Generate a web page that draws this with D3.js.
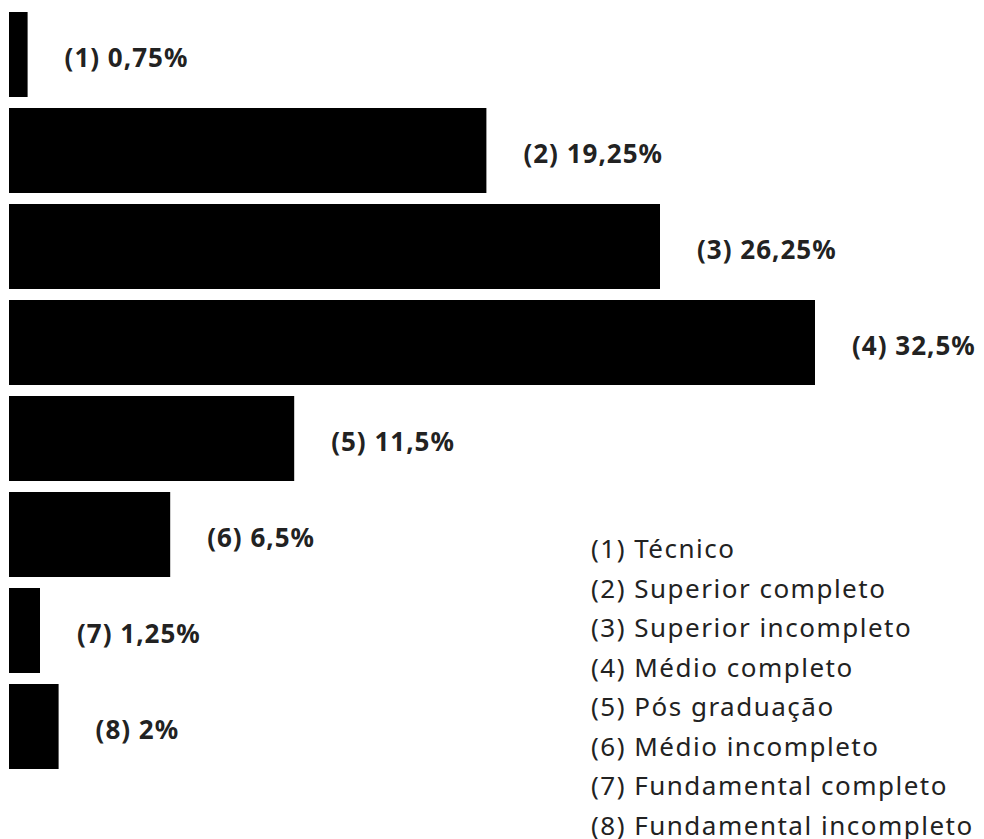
<!DOCTYPE html>
<html>
<head>
<meta charset="utf-8">
<script src="https://cdn.jsdelivr.net/npm/d3@7"></script>
<style>
  html, body { margin: 0; padding: 0; background: #fff; }
  svg { display: block; }
</style>
</head>
<body>
<svg id="chart" width="984" height="839"></svg>
<script>
const codes = ["(1)", "(2)", "(3)", "(4)", "(5)", "(6)", "(7)", "(8)"];
const categories = ["Técnico", "Superior completo", "Superior incompleto", "Médio completo",
                    "Pós graduação", "Médio incompleto", "Fundamental completo", "Fundamental incompleto"];
const values = [0.75, 19.25, 26.25, 32.5, 11.5, 6.5, 1.25, 2];
const valueLabels = ["0,75%", "19,25%", "26,25%", "32,5%", "11,5%", "6,5%", "1,25%", "2%"];

const svg = d3.select("#chart");
const font = "'Noto Sans', 'Open Sans', sans-serif";

const x = d3.scaleLinear().domain([0, 32.5]).range([9, 815]);
const y = d3.scaleBand().domain(codes).range([12, 769]).paddingInner(11 / 96).paddingOuter(0);

const data = codes.map((c, i) => ({ code: c, cat: categories[i], v: values[i], lab: valueLabels[i] }));

svg.append("g").selectAll("rect").data(data).join("rect")
  .attr("x", x(0))
  .attr("y", d => y(d.code))
  .attr("width", d => x(d.v) - x(0))
  .attr("height", y.bandwidth())
  .attr("fill", "#000");

svg.append("g").selectAll("text").data(data).join("text")
  .attr("x", d => x(d.v) + 37)
  .attr("y", d => y(d.code) + y.bandwidth() / 2 + 2)
  .attr("dominant-baseline", "central")
  .attr("font-family", font)
  .attr("font-weight", 700)
  .attr("font-size", 26)
  .attr("letter-spacing", 1)
  .attr("fill", "#222")
  .text(d => `${d.code} ${d.lab}`);

const ly = d3.scalePoint().domain(codes).range([548, 825]);
svg.append("g").selectAll("text").data(data).join("text")
  .attr("x", 591)
  .attr("y", d => ly(d.code))
  .attr("dominant-baseline", "central")
  .attr("font-family", font)
  .attr("font-size", 26)
  .attr("letter-spacing", 1.5)
  .attr("fill", "#222")
  .text(d => `${d.code} ${d.cat}`);
</script>
</body>
</html>
